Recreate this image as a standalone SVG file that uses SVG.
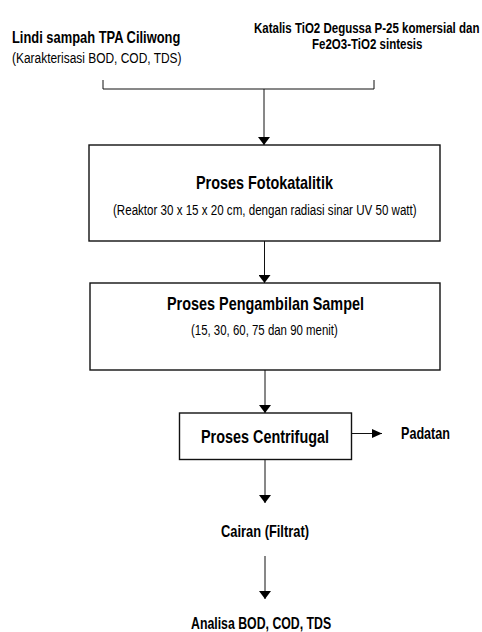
<svg xmlns="http://www.w3.org/2000/svg" width="482" height="632" viewBox="0 0 482 632">
<style>
text{font-family:"Liberation Sans",Arial,sans-serif;fill:#000}
.b{font-weight:bold}
.box{fill:#fff;stroke:#111;stroke-width:1.4}
.ln{fill:none;stroke:#111;stroke-width:1}
</style>
<defs>
<marker id="ah" viewBox="0 0 10 10" refX="10" refY="5" markerWidth="8" markerHeight="12" markerUnits="userSpaceOnUse" orient="auto" preserveAspectRatio="none">
<path d="M0,0 L10,5 L0,10 Z" fill="#000"/>
</marker>
<marker id="ah2" viewBox="0 0 10 10" refX="10" refY="5" markerWidth="10" markerHeight="9" markerUnits="userSpaceOnUse" orient="auto" preserveAspectRatio="none">
<path d="M0,0 L10,5 L0,10 Z" fill="#000"/>
</marker>
</defs>
<rect width="482" height="632" fill="#fff"/>
<g id="input1">
<text class="b" font-size="16" transform="translate(12,43) scale(0.807,1)">Lindi sampah TPA Ciliwong</text>
<text font-size="14.7" transform="translate(12,62.5) scale(0.813,1)">(Karakterisasi BOD, COD, TDS)</text>
</g>
<g id="input2">
<text class="b" font-size="14.5" transform="translate(254,32.5) scale(0.794,1)">Katalis TiO2 Degussa P-25 komersial dan</text>
<text class="b" font-size="14.5" transform="translate(312,48.5) scale(0.794,1)">Fe2O3-TiO2 sintesis</text>
</g>
<g id="fotokatalitik">
<rect class="box" x="89" y="145" width="351" height="96"/>
<text class="b" font-size="18" transform="translate(196,189) scale(0.801,1)">Proses Fotokatalitik</text>
<text font-size="14.5" transform="translate(113,215) scale(0.799,1)">(Reaktor 30 x 15 x 20 cm, dengan radiasi sinar UV 50 watt)</text>
</g>
<g id="pengambilan">
<rect class="box" x="90" y="283" width="350" height="87"/>
<text class="b" font-size="18" transform="translate(167,309.5) scale(0.801,1)">Proses Pengambilan Sampel</text>
<text font-size="14.5" transform="translate(191,335) scale(0.789,1)">(15, 30, 60, 75 dan 90 menit)</text>
</g>
<g id="centrifugal">
<rect class="box" x="179.5" y="413" width="172" height="46.5"/>
<text class="b" font-size="18" transform="translate(201,442.5) scale(0.8,1)">Proses Centrifugal</text>
</g>
<g id="padatan">
<text class="b" font-size="16" transform="translate(401,438.5) scale(0.787,1)">Padatan</text>
</g>
<g id="cairan">
<text class="b" font-size="16" transform="translate(221,536.5) scale(0.805,1)">Cairan (Filtrat)</text>
</g>
<g id="analisa">
<text class="b" font-size="16" transform="translate(191,629) scale(0.77,1)">Analisa BOD, COD, TDS</text>
</g>
<g id="connectors">
<path class="ln" d="M103,80 V89 H374 V80"/>
<path class="ln" d="M264,89 V145" marker-end="url(#ah)"/>
<path class="ln" d="M264.5,241 V283" marker-end="url(#ah)"/>
<path class="ln" d="M265,370 V413" marker-end="url(#ah)"/>
<path class="ln" d="M351.5,433.5 H382" marker-end="url(#ah2)"/>
<path class="ln" d="M265,459.5 V503" marker-end="url(#ah)"/>
<path class="ln" d="M265,556 V599" marker-end="url(#ah)"/>
</g>
</svg>
